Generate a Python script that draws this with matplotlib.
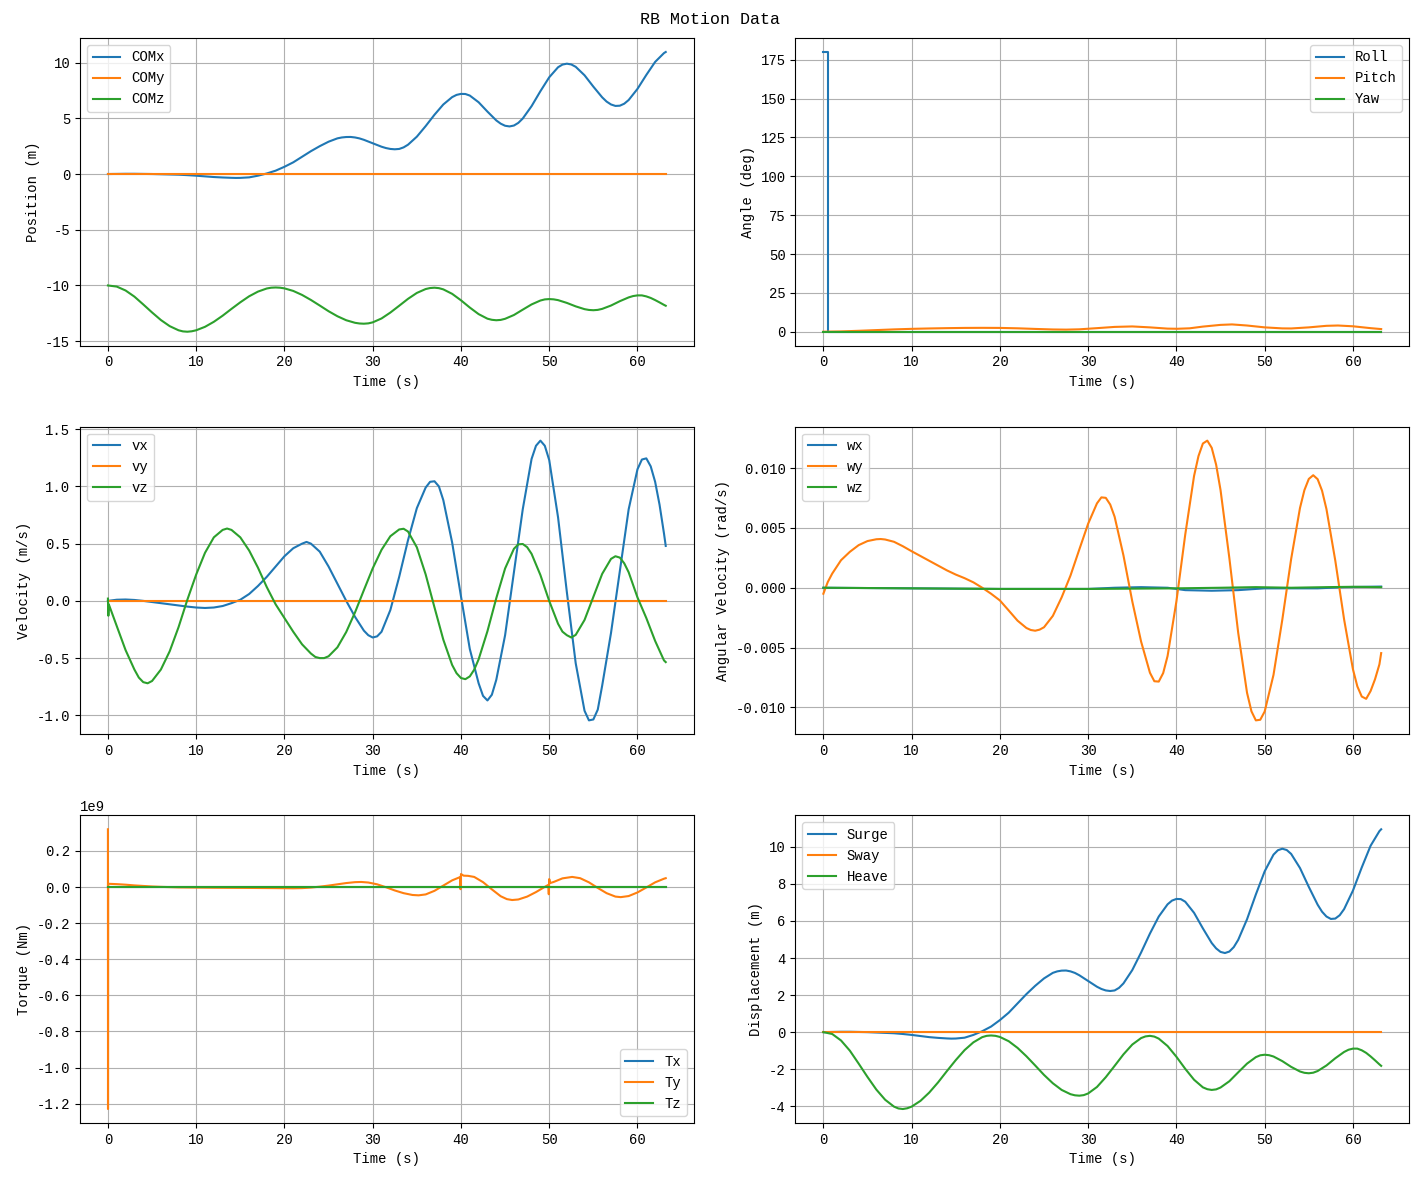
import numpy as np
import matplotlib
matplotlib.use('Agg')
import matplotlib.pyplot as plt

plt.rcParams['font.family'] = ['Liberation Mono', 'DejaVu Sans']
plt.rcParams['axes.unicode_minus'] = False

# position of centre of mass (m)
com_x_time = [0, 1, 2, 3, 4, 5, 6, 7, 8, 9, 10, 11, 12, 13, 14, 14.5, 15, 16, 17, 18, 19, 20, 21, 22,
              23, 24, 25, 26, 26.5, 27, 27.5, 28, 28.5, 29, 30, 31, 31.5, 32, 32.5, 33, 33.5, 34, 35,
              36, 37, 38, 39, 39.5, 40, 40.5, 41, 42, 43, 44, 44.5, 45, 45.5, 46, 46.5, 47, 48, 49,
              50, 51, 51.5, 52, 52.5, 53, 54, 55, 56, 56.5, 57, 57.5, 58, 58.5, 59, 60, 61, 62, 63,
              63.2]
com_x = [0.0, 0.01, 0.02, 0.02, 0.01, 0.0, -0.02, -0.04, -0.06, -0.1, -0.15, -0.21, -0.27, -0.31,
         -0.34, -0.35, -0.345, -0.3, -0.15, 0.05, 0.3, 0.65, 1.05, 1.55, 2.05, 2.5, 2.9, 3.2, 3.28,
         3.32, 3.326, 3.28, 3.196, 3.07, 2.76, 2.45, 2.33, 2.25, 2.22, 2.25, 2.39, 2.63, 3.35, 4.3,
         5.32, 6.24, 6.9, 7.1, 7.19, 7.18, 7.04, 6.44, 5.6, 4.81, 4.52, 4.33, 4.27, 4.35, 4.59,
         4.98, 6.09, 7.43, 8.68, 9.58, 9.82, 9.9, 9.83, 9.62, 8.86, 7.84, 6.88, 6.5, 6.24, 6.11,
         6.13, 6.31, 6.64, 7.64, 8.89, 10.06, 10.85, 10.95]
com_y_time = [0, 63.2]
com_y = [0.0, 0.0]
com_z_time = [0, 1, 2, 3, 4, 5, 6, 7, 8, 8.5, 9, 9.5, 10, 11, 12, 13, 14, 15, 16, 17, 18, 18.5, 19,
              19.5, 20, 21, 22, 23, 24, 25, 26, 27, 28, 28.5, 29, 29.5, 30, 31, 32, 33, 34, 35, 36,
              36.5, 37, 37.5, 38, 39, 40, 41, 42, 43, 43.5, 44, 44.5, 45, 46, 47, 48, 49, 49.5, 50,
              50.5, 51, 52, 53, 54, 54.5, 55, 55.5, 56, 57, 58, 59, 59.5, 60, 60.5, 61, 61.5, 62,
              62.5, 63, 63.2]
com_z = [-10.0, -10.1, -10.45, -11.0, -11.7, -12.42, -13.1, -13.65, -14.02, -14.12, -14.15, -14.11,
         -14.02, -13.71, -13.26, -12.71, -12.1, -11.51, -10.97, -10.55, -10.27, -10.2, -10.18,
         -10.2, -10.26, -10.49, -10.85, -11.3, -11.8, -12.31, -12.76, -13.12, -13.35, -13.41,
         -13.43, -13.4, -13.31, -12.96, -12.43, -11.82, -11.2, -10.67, -10.32, -10.23, -10.2,
         -10.24, -10.35, -10.75, -11.33, -11.98, -12.57, -12.98, -13.08, -13.12, -13.09, -12.99,
         -12.65, -12.17, -11.7, -11.35, -11.25, -11.22, -11.245, -11.315, -11.565, -11.875,
         -12.125, -12.196, -12.22, -12.19, -12.1, -11.8, -11.41, -11.07, -10.95, -10.89, -10.89,
         -10.98, -11.12, -11.31, -11.52, -11.74, -11.82]

# attitude (deg)
roll_time = [0, 0.5, 0.5, 63.2]
roll = [180.0, 180.0, 0.0, 0.0]
pitch_time = [0, 2, 4, 6, 8, 10, 12, 14, 16, 18, 20, 22, 24, 26, 27.5, 29, 31, 33, 35, 37, 39, 40.1,
              41.5, 43, 45, 46.3, 48, 50, 52, 53, 55, 57, 58.3, 60, 62, 63.2]
pitch = [0.0, 0.2, 0.6, 1.05, 1.5, 1.85, 2.1, 2.3, 2.45, 2.5, 2.45, 2.2, 1.8, 1.45, 1.35, 1.55, 2.3,
         3.1, 3.4, 2.8, 2.0, 1.9, 2.2, 3.3, 4.4, 4.7, 4.0, 2.8, 2.15, 2.1, 2.8, 3.8, 4.0, 3.5, 2.3, 1.7]
yaw_time = [0, 63.2]
yaw = [0.0, 0.0]

# linear velocity (m/s)
vx_time = [0, 1, 2, 3, 4, 5, 6, 7, 8, 9, 10, 11, 12, 13, 14, 15, 16, 17, 18, 19, 20, 21, 22, 22.5,
           23, 24, 25, 26, 27, 28, 29, 29.5, 30, 30.5, 31, 32, 33, 34, 35, 36, 36.5, 37, 37.5, 38,
           39, 40, 41, 42, 42.5, 43, 43.5, 44, 45, 46, 47, 48, 48.5, 49, 49.5, 50, 51, 52, 53, 54,
           54.5, 55, 55.5, 56, 57, 58, 59, 60, 60.5, 61, 61.5, 62, 62.5, 63, 63.2]
vx = [0.0, 0.01, 0.012, 0.008, 0.0, -0.01, -0.02, -0.03, -0.04, -0.05, -0.058, -0.062, -0.058,
      -0.045, -0.02, 0.01, 0.06, 0.13, 0.21, 0.30, 0.39, 0.46, 0.50, 0.515, 0.50, 0.43, 0.30, 0.15,
      0.0, -0.14, -0.26, -0.30, -0.32, -0.31, -0.27, -0.08, 0.21, 0.53, 0.81, 0.99, 1.04, 1.045,
      1.0, 0.88, 0.51, 0.04, -0.42, -0.72, -0.83, -0.87, -0.82, -0.69, -0.30, 0.25, 0.80, 1.24,
      1.355, 1.40, 1.355, 1.23, 0.73, 0.075, -0.545, -0.96, -1.044, -1.036, -0.95, -0.74, -0.28,
      0.26, 0.80, 1.15, 1.235, 1.245, 1.175, 1.04, 0.84, 0.59, 0.48]
vy_time = [0, 63.2]
vy = [0.0, 0.0]
vz_time = [0, 0.05, 0.1, 1, 2, 3, 3.5, 4, 4.5, 5, 6, 7, 8, 9, 10, 11, 12, 13, 13.5, 14, 15, 16, 17,
           18, 19, 20, 21, 22, 23, 23.5, 24, 24.5, 25, 26, 27, 28, 29, 30, 31, 32, 33, 33.5, 34, 35,
           36, 37, 38, 39, 39.5, 40, 40.5, 41, 41.5, 42, 43, 44, 45, 46, 46.5, 47, 47.5, 48, 49, 50,
           51, 51.5, 52, 52.5, 53, 54, 55, 56, 57, 57.5, 58, 58.5, 59, 60, 61, 62, 63, 63.2]
vz = [0.02, -0.13, -0.03, -0.22, -0.43, -0.60, -0.67, -0.71, -0.72, -0.70, -0.60, -0.44, -0.23,
      0.01, 0.23, 0.42, 0.555, 0.62, 0.632, 0.62, 0.555, 0.44, 0.29, 0.12, -0.03, -0.15, -0.27,
      -0.38, -0.46, -0.49, -0.50, -0.50, -0.484, -0.406, -0.272, -0.10, 0.094, 0.284, 0.446,
      0.565, 0.624, 0.63, 0.606, 0.468, 0.231, -0.057, -0.339, -0.56, -0.632, -0.674, -0.684,
      -0.66, -0.601, -0.511, -0.265, 0.023, 0.283, 0.455, 0.494, 0.497, 0.469, 0.411, 0.226,
      -0.001, -0.20, -0.269, -0.30, -0.32, -0.297, -0.167, 0.035, 0.236, 0.367, 0.39, 0.378,
      0.328, 0.25, 0.03, -0.15, -0.35, -0.52, -0.535]

# angular velocity (mrad/s)
wx_time = [0, 10, 20, 30, 33, 36, 39, 41, 44, 47, 50, 53, 56, 59, 63.2]
wx_mrad = [0.0, -0.05, -0.1, -0.1, 0.0, 0.05, 0.0, -0.2, -0.25, -0.2, -0.05, -0.05, -0.05, 0.05, 0.1]
wy_time = [0, 0.5, 1, 2, 3, 4, 5, 6, 6.5, 7, 8, 9, 10, 11, 12, 13, 14, 15, 16, 17, 18, 19, 20, 21,
           22, 23, 23.5, 24, 24.5, 25, 26, 27, 28, 29, 30, 31, 31.5, 32, 32.5, 33, 34, 35, 36, 37,
           37.5, 38, 38.5, 39, 40, 41, 42, 42.5, 43, 43.5, 44, 44.5, 45, 46, 47, 48, 48.5, 49, 49.5,
           50, 51, 52, 53, 54, 54.5, 55, 55.5, 56, 56.5, 57, 58, 59, 60, 60.5, 61, 61.5, 62, 62.5,
           63, 63.2]
wy_mrad = [-0.5, 0.48, 1.18, 2.3, 3.0, 3.56, 3.9, 4.05, 4.07, 4.03, 3.84, 3.47, 3.05, 2.65, 2.25,
           1.85, 1.45, 1.1, 0.8, 0.45, 0.0, -0.5, -1.06, -1.9, -2.75, -3.36, -3.53, -3.59, -3.5,
           -3.3, -2.35, -0.8, 1.02, 3.2, 5.35, 7.05, 7.55, 7.51, 6.95, 5.93, 2.7, -1.14, -4.5, -7.1,
           -7.81, -7.84, -7.13, -5.7, -1.14, 4.44, 9.34, 11.0, 12.05, 12.29, 11.69, 10.28, 8.16,
           2.47, -3.76, -8.77, -10.32, -11.08, -11.03, -10.34, -7.28, -2.66, 2.4, 6.66, 8.15, 9.09,
           9.4, 9.07, 8.11, 6.57, 2.27, -2.65, -6.81, -8.24, -9.09, -9.28, -8.63, -7.65, -6.4, -5.46]
wz_time = [0, 10, 20, 30, 40, 45, 49, 53, 57, 60, 63.2]
wz_mrad = [0.0, -0.05, -0.1, -0.1, -0.05, 0.0, 0.05, 0.0, 0.05, 0.08, 0.05]

# torque (1e9 Nm)
tx_time = [0, 63.2]
tx_g = [0.0, 0.0]
ty_time = [0, 0.01, 0.03, 1, 2, 3, 4, 5, 6, 8, 12, 16, 19, 21, 22, 23, 24, 25, 26, 27, 28, 28.7,
           29.5, 30.5, 31.5, 32.5, 33.5, 34.5, 35.2, 36, 37, 38, 39, 39.9, 39.95, 40.0, 40.3, 40.8,
           41.5, 42.5, 43.5, 44.5, 45.2, 45.8, 46.5, 47.5, 48.5, 49.5, 49.9, 49.95, 50.0, 50.1,
           50.5, 51.5, 52.6, 53.5, 54.5, 55.5, 56.5, 57.5, 58.1, 59, 60, 61, 62, 63, 63.2]
ty_g = [0.32, -1.23, 0.018, 0.016, 0.013, 0.009, 0.006, 0.003, 0.001, -0.002, -0.004, -0.005,
        -0.006, -0.007, -0.006, -0.003, 0.002, 0.008, 0.015, 0.022, 0.027, 0.028, 0.025, 0.015,
        -0.001, -0.019, -0.034, -0.044, -0.046, -0.041, -0.021, 0.008, 0.037, 0.055, -0.012,
        0.072, 0.063, 0.062, 0.056, 0.027, -0.013, -0.051, -0.067, -0.072, -0.069, -0.053,
        -0.028, 0.001, 0.012, -0.04, 0.044, 0.022, 0.028, 0.048, 0.056, 0.049, 0.026, -0.005,
        -0.034, -0.053, -0.056, -0.05, -0.03, -0.0025, 0.026, 0.046, 0.049]
tz_time = [0, 63.2]
tz_g = [0.0, 0.0]

wx = np.array(wx_mrad) * 1e-3
wy = np.array(wy_mrad) * 1e-3
wz = np.array(wz_mrad) * 1e-3
tx = np.array(tx_g) * 1e9
ty = np.array(ty_g) * 1e9
tz = np.array(tz_g) * 1e9

# displacement relative to the start
surge = np.array(com_x) - com_x[0]
sway = np.array(com_y) - com_y[0]
heave = np.array(com_z) - com_z[0]

fig, axs = plt.subplots(3, 2, figsize=(14.19, 11.8), dpi=100)
fig.suptitle('RB Motion Data', y=0.99)

ax = axs[0, 0]
ax.plot(com_x_time, com_x, label='COMx')
ax.plot(com_y_time, com_y, label='COMy')
ax.plot(com_z_time, com_z, label='COMz')
ax.set_xlabel('Time (s)')
ax.set_ylabel('Position (m)')
ax.legend(loc='upper left')
ax.grid(True)

ax = axs[0, 1]
ax.plot(roll_time, roll, label='Roll')
ax.plot(pitch_time, pitch, label='Pitch')
ax.plot(yaw_time, yaw, label='Yaw')
ax.set_xlabel('Time (s)')
ax.set_ylabel('Angle (deg)')
ax.legend(loc='upper right')
ax.grid(True)

ax = axs[1, 0]
ax.plot(vx_time, vx, label='vx')
ax.plot(vy_time, vy, label='vy')
ax.plot(vz_time, vz, label='vz')
ax.set_xlabel('Time (s)')
ax.set_ylabel('Velocity (m/s)')
ax.legend(loc='upper left')
ax.grid(True)

ax = axs[1, 1]
ax.plot(wx_time, wx, label='wx')
ax.plot(wy_time, wy, label='wy')
ax.plot(wz_time, wz, label='wz')
ax.set_xlabel('Time (s)')
ax.set_ylabel('Angular Velocity (rad/s)')
ax.legend(loc='upper left')
ax.grid(True)

ax = axs[2, 0]
ax.plot(tx_time, tx, label='Tx')
ax.plot(ty_time, ty, label='Ty')
ax.plot(tz_time, tz, label='Tz')
ax.set_xlabel('Time (s)')
ax.set_ylabel('Torque (Nm)')
ax.legend(loc='lower right')
ax.grid(True)

ax = axs[2, 1]
ax.plot(com_x_time, surge, label='Surge')
ax.plot(com_y_time, sway, label='Sway')
ax.plot(com_z_time, heave, label='Heave')
ax.set_xlabel('Time (s)')
ax.set_ylabel('Displacement (m)')
ax.legend(loc='upper left')
ax.grid(True)

fig.subplots_adjust(left=0.0564, right=0.9930, top=0.9678, bottom=0.0483,
                    wspace=0.166, hspace=0.263)
plt.savefig('out.png')
